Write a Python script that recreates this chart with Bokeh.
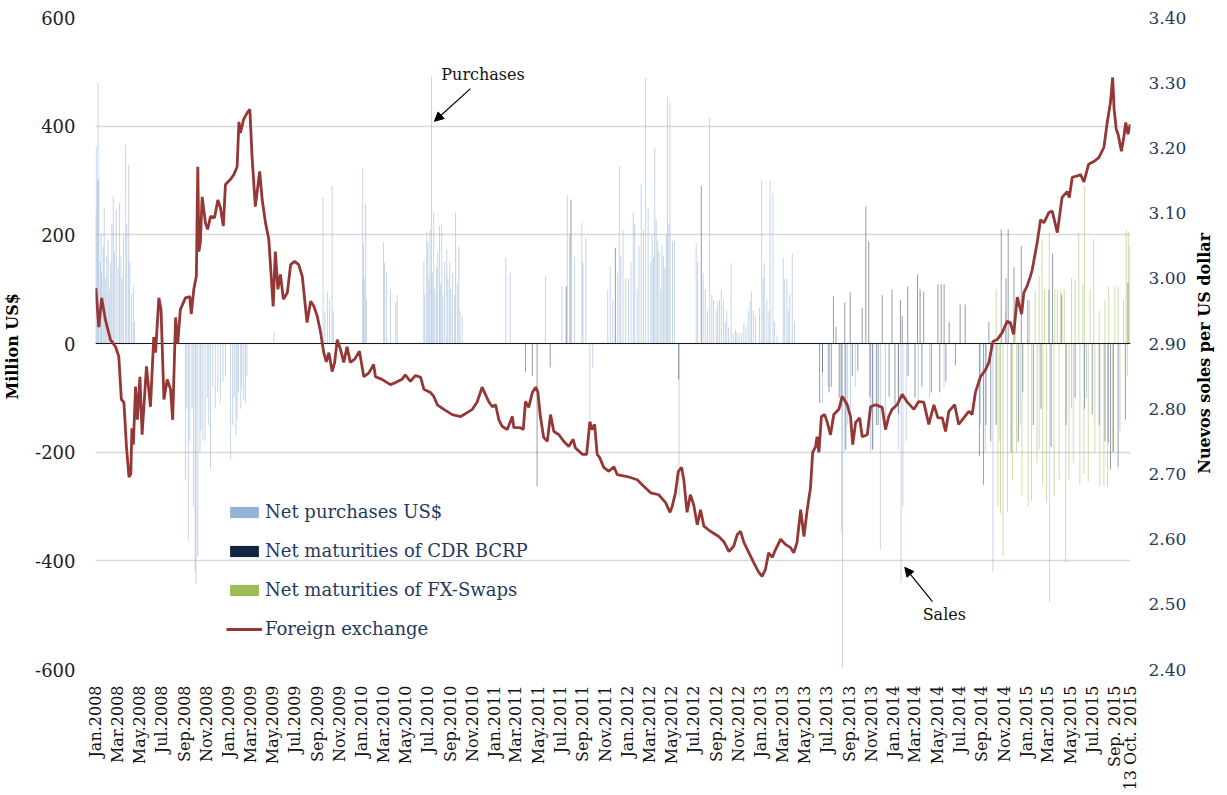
import math
import pandas as pd
from bokeh.plotting import figure
from bokeh.models import (Range1d, LinearAxis, FixedTicker, NumeralTickFormatter, Legend,
                          LegendItem, Label, Arrow, NormalHead, ColumnDataSource)
from bokeh.embed import file_html
from bokeh.resources import INLINE

FONT = "DejaVu Serif"

# ---------------- data ----------------
# Net purchases of US$ (million US$)
PURCHASES = [
    ("2008-01-02", 240), ("2008-01-03", 363), ("2008-01-07", 300), ("2008-01-08", 480), ("2008-01-10", 305),
    ("2008-01-14", 150), ("2008-01-16", 200), ("2008-01-18", 130), ("2008-01-22", 180), ("2008-01-25", 250),
    ("2008-01-29", 120), ("2008-02-01", 160), ("2008-02-05", 191), ("2008-02-08", 100), ("2008-02-12", 150),
    ("2008-02-15", 220), ("2008-02-19", 271), ("2008-02-22", 170), ("2008-02-27", 247), ("2008-03-03", 140),
    ("2008-03-07", 259), ("2008-03-11", 160), ("2008-03-14", 120), ("2008-03-18", 200), ("2008-03-24", 366),
    ("2008-03-27", 220), ("2008-04-01", 329), ("2008-04-04", 150), ("2008-04-09", 90), ("2008-04-14", 105),
    ("2008-04-17", 40),
    ("2008-09-04", -250), ("2008-09-08", -120), ("2008-09-12", -361), ("2008-09-16", -180), ("2008-09-22", -120),
    ("2008-09-26", -300), ("2008-10-01", -422), ("2008-10-03", -443), ("2008-10-08", -392), ("2008-10-14", -200),
    ("2008-10-17", -160), ("2008-10-22", -177), ("2008-10-28", -180), ("2008-11-03", -100), ("2008-11-07", -150),
    ("2008-11-12", -232), ("2008-11-18", -80), ("2008-11-25", -120), ("2008-12-02", -90), ("2008-12-09", -110),
    ("2008-12-16", -70), ("2008-12-23", -60), ("2009-01-06", -213), ("2009-01-12", -150), ("2009-01-16", -100),
    ("2009-01-21", -170), ("2009-01-24", -140), ("2009-01-28", -90), ("2009-02-03", -120), ("2009-02-06", -80),
    ("2009-02-11", -103), ("2009-02-16", -110), ("2009-02-20", -60),
    ("2009-05-05", 20), ("2009-09-17", 268), ("2009-09-22", 60), ("2009-09-29", 94), ("2009-10-05", 80),
    ("2009-10-12", 290), ("2009-10-15", 60),
    ("2010-01-04", 323), ("2010-01-06", 182), ("2010-01-08", 120), ("2010-01-12", 259), ("2010-01-14", 80),
    ("2010-03-02", 186), ("2010-03-05", 149), ("2010-03-10", 130), ("2010-03-21", 99), ("2010-04-05", 77),
    ("2010-04-09", 90),
    ("2010-06-21", 151), ("2010-06-24", 90), ("2010-06-29", 206), ("2010-07-02", 186), ("2010-07-05", 120),
    ("2010-07-08", 210), ("2010-07-12", 492), ("2010-07-14", 130), ("2010-07-18", 241), ("2010-07-21", 100),
    ("2010-07-26", 140), ("2010-07-29", 167), ("2010-08-03", 216), ("2010-08-05", 110), ("2010-08-09", 219),
    ("2010-08-12", 90), ("2010-08-17", 150), ("2010-08-23", 173), ("2010-08-26", 120), ("2010-08-31", 149),
    ("2010-09-03", 100), ("2010-09-08", 130), ("2010-09-13", 90), ("2010-09-16", 241), ("2010-09-21", 110),
    ("2010-09-25", 179), ("2010-09-28", 60), ("2010-10-04", 50),
    ("2011-02-01", 158), ("2011-02-13", 130), ("2011-05-21", 124),
    ("2011-07-05", 105), ("2011-07-20", 274), ("2011-07-26", 200), ("2011-08-09", 160), ("2011-08-29", 222),
    ("2011-09-01", 148), ("2011-09-09", 195), ("2011-09-20", -140), ("2011-09-28", -44),
    ("2011-11-08", 99), ("2011-11-15", 142), ("2011-11-22", 80), ("2011-12-05", 130), ("2011-12-10", 326),
    ("2011-12-14", 160), ("2011-12-20", 210), ("2011-12-27", 120), ("2012-01-04", 120), ("2012-01-11", 150),
    ("2012-01-17", 243), ("2012-01-21", 220), ("2012-01-28", 100), ("2012-02-02", 180), ("2012-02-08", 293),
    ("2012-02-14", 210), ("2012-02-20", 489), ("2012-02-27", 250), ("2012-03-05", 150), ("2012-03-09", 200),
    ("2012-03-13", 160), ("2012-03-16", 360), ("2012-03-20", 230), ("2012-03-24", 190), ("2012-03-28", 170),
    ("2012-04-02", 100), ("2012-04-05", 180), ("2012-04-09", 160), ("2012-04-13", 140), ("2012-04-17", 200),
    ("2012-04-20", 455), ("2012-04-24", 220), ("2012-04-27", 443), ("2012-05-04", 188), ("2012-05-09", 190),
    ("2012-05-22", -282),
    ("2012-07-08", 186), ("2012-07-12", 150), ("2012-07-27", 130), ("2012-08-02", 100), ("2012-08-08", 60),
    ("2012-08-14", 415), ("2012-08-20", 90), ("2012-08-25", 80), ("2012-09-01", 60), ("2012-09-05", 77),
    ("2012-09-10", 80), ("2012-09-15", 99), ("2012-09-21", 80), ("2012-09-26", 40), ("2012-09-30", 60),
    ("2012-10-05", 30), ("2012-10-12", 148), ("2012-10-18", 20), ("2012-10-24", 25), ("2012-10-28", 20),
    ("2012-11-03", 20), ("2012-11-10", 20), ("2012-11-16", 38), ("2012-11-22", 30), ("2012-11-28", 60),
    ("2012-12-03", 78), ("2012-12-07", 96), ("2012-12-12", 60), ("2012-12-18", 50), ("2012-12-29", 65),
    ("2013-01-04", 299), ("2013-01-08", 120), ("2013-01-11", 148), ("2013-01-18", 80), ("2013-01-24", 60),
    ("2013-01-27", 299), ("2013-02-04", 277), ("2013-02-08", 40), ("2013-02-15", 15), ("2013-03-04", 158),
    ("2013-03-08", 118), ("2013-03-14", 120), ("2013-03-18", 60), ("2013-03-22", 90), ("2013-03-29", 166),
    ("2013-04-04", 40),
    ("2013-06-20", -110), ("2013-07-05", -80), ("2013-08-12", -349), ("2013-08-14", -597), ("2013-08-20", -200),
    ("2013-08-28", -150), ("2013-09-05", -120), ("2013-09-18", -80), ("2013-10-30", -200), ("2013-11-06", -195),
    ("2013-11-26", -379), ("2013-12-10", -150), ("2014-01-14", -195), ("2014-01-22", -440), ("2014-01-27", -300),
    ("2014-02-05", -180), ("2014-03-10", -120), ("2014-04-10", -100), ("2014-05-20", -80), ("2014-08-28", -150),
    ("2014-09-10", -200), ("2014-10-01", -421), ("2014-10-20", -180), ("2014-12-15", -150), ("2015-02-05", -195),
    ("2015-03-06", -477), ("2015-05-05", -120), ("2015-06-15", -100),
]

# Net maturities of CDR BCRP (million US$)
CDR = [
    ("2011-03-27", -53), ("2011-04-15", -60), ("2011-04-28", -263), ("2011-06-03", -44), ("2011-07-17", 105),
    ("2011-07-30", 265), ("2011-11-29", 176), ("2012-05-21", -66), ("2012-07-22", 290),
    ("2013-06-12", -109), ("2013-06-20", -53), ("2013-07-08", -90), ("2013-07-14", -80), ("2013-07-20", 87),
    ("2013-07-27", 31), ("2013-08-05", -100), ("2013-08-10", -116), ("2013-08-20", 75), ("2013-08-23", -195),
    ("2013-09-04", 94), ("2013-09-10", -60), ("2013-09-25", -50), ("2013-10-07", 66), ("2013-10-17", 252),
    ("2013-10-25", 188), ("2013-10-28", -98), ("2013-11-04", -195), ("2013-11-15", -150), ("2013-11-20", -150),
    ("2013-12-01", 89), ("2013-12-20", -98), ("2013-12-28", 99), ("2014-01-05", -120), ("2014-01-15", -130),
    ("2014-01-20", 80), ("2014-01-25", 50), ("2014-02-09", 105), ("2014-02-10", -60), ("2014-03-01", -100),
    ("2014-03-08", 127), ("2014-03-15", 100), ("2014-03-20", -80), ("2014-03-25", 95), ("2014-04-15", -90),
    ("2014-05-03", 109), ("2014-05-08", -90), ("2014-05-12", 109), ("2014-05-20", 109), ("2014-05-25", -70),
    ("2014-06-03", 40), ("2014-06-20", -40), ("2014-07-03", 72), ("2014-07-17", 72), ("2014-08-25", -207),
    ("2014-09-05", -260), ("2014-09-12", -150), ("2014-09-20", 40), ("2014-09-25", -180), ("2014-10-10", -150),
    ("2014-10-24", 210), ("2014-11-06", 120), ("2014-11-12", 210), ("2014-11-20", -200), ("2014-11-28", 140),
    ("2014-12-10", -180), ("2014-12-18", 179), ("2014-12-22", -90), ("2015-01-05", 80), ("2015-01-20", -150),
    ("2015-02-10", -120), ("2015-03-04", 99), ("2015-03-10", -190), ("2015-03-14", 166), ("2015-04-08", 90),
    ("2015-04-20", -150), ("2015-05-15", -100), ("2015-06-10", -120), ("2015-07-01", -130), ("2015-07-20", -150),
    ("2015-08-05", -180), ("2015-08-14", -182), ("2015-08-20", -232), ("2015-08-28", -200), ("2015-09-10", -228),
    ("2015-09-30", -140), ("2015-10-07", 112),
]

# Net maturities of FX-Swaps (million US$)
SWAPS = [
    ("2014-10-10", 100), ("2014-10-15", -300), ("2014-10-22", -312), ("2014-10-29", -392), ("2014-11-05", 60),
    ("2014-11-10", -310), ("2014-11-24", -250), ("2014-12-01", 40), ("2014-12-05", -200), ("2014-12-20", -280),
    ("2015-01-06", -300), ("2015-01-10", 80), ("2015-01-15", -290), ("2015-01-25", 99), ("2015-01-30", -220),
    ("2015-02-05", 124), ("2015-02-13", 191), ("2015-02-15", -260), ("2015-02-20", 99), ("2015-02-25", -293),
    ("2015-03-05", 204), ("2015-03-18", -280), ("2015-03-20", 99), ("2015-03-27", 99), ("2015-04-01", -250),
    ("2015-04-05", 99), ("2015-04-15", 99), ("2015-04-19", -403), ("2015-04-28", -250), ("2015-05-05", 120),
    ("2015-05-10", -220), ("2015-05-15", 118), ("2015-05-25", 204), ("2015-05-28", -260), ("2015-06-05", 110),
    ("2015-06-08", -240), ("2015-06-10", 290), ("2015-06-20", -254), ("2015-06-25", 100), ("2015-07-05", 193),
    ("2015-07-08", -200), ("2015-07-20", 60), ("2015-07-22", -263), ("2015-08-02", -263), ("2015-08-05", 80),
    ("2015-08-12", -263), ("2015-08-15", 105), ("2015-08-25", -200), ("2015-09-01", 105), ("2015-09-10", 105),
    ("2015-09-15", -160), ("2015-09-25", 80), ("2015-10-02", 210), ("2015-10-05", -60), ("2015-10-08", 205),
    ("2015-10-12", 180),
]

# Foreign exchange rate (Nuevos soles per US dollar)
FX = [
    ("2008-01-02", 2.985), ("2008-01-10", 2.925), ("2008-01-18", 2.970), ("2008-01-28", 2.937), ("2008-02-11", 2.906),
    ("2008-02-25", 2.895), ("2008-03-05", 2.880), ("2008-03-12", 2.814), ("2008-03-19", 2.810), ("2008-03-26", 2.742),
    ("2008-04-02", 2.695), ("2008-04-07", 2.700), ("2008-04-10", 2.770), ("2008-04-14", 2.745), ("2008-04-20", 2.834),
    ("2008-04-25", 2.783), ("2008-05-02", 2.849), ("2008-05-08", 2.760), ("2008-05-20", 2.865), ("2008-05-31", 2.803),
    ("2008-06-09", 2.910), ("2008-06-14", 2.886), ("2008-06-23", 2.970), ("2008-06-29", 2.952), ("2008-07-07", 2.814),
    ("2008-07-16", 2.845), ("2008-07-25", 2.830), ("2008-07-31", 2.783), ("2008-08-08", 2.940), ("2008-08-14", 2.900),
    ("2008-08-21", 2.952), ("2008-09-04", 2.970), ("2008-09-16", 2.972), ("2008-09-20", 2.945), ("2008-09-27", 2.983),
    ("2008-10-04", 3.003), ("2008-10-08", 3.171), ("2008-10-11", 3.041), ("2008-10-15", 3.055), ("2008-10-20", 3.125),
    ("2008-10-29", 3.085), ("2008-11-04", 3.075), ("2008-11-12", 3.095), ("2008-11-23", 3.093), ("2008-12-02", 3.120),
    ("2008-12-09", 3.109), ("2008-12-17", 3.080), ("2008-12-23", 3.144), ("2009-01-06", 3.152), ("2009-01-15", 3.159),
    ("2009-01-24", 3.171), ("2009-01-29", 3.240), ("2009-02-02", 3.223), ("2009-02-11", 3.244), ("2009-02-21", 3.254),
    ("2009-02-28", 3.259), ("2009-03-06", 3.187), ("2009-03-15", 3.110), ("2009-03-27", 3.164), ("2009-04-03", 3.120),
    ("2009-04-12", 3.085), ("2009-04-21", 3.060), ("2009-05-03", 2.957), ("2009-05-09", 3.041), ("2009-05-16", 2.983),
    ("2009-05-23", 3.006), ("2009-05-31", 2.968), ("2009-06-11", 2.978), ("2009-06-20", 3.021), ("2009-07-01", 3.026),
    ("2009-07-12", 3.021), ("2009-07-22", 3.003), ("2009-08-04", 2.932), ("2009-08-14", 2.965), ("2009-08-23", 2.957),
    ("2009-09-01", 2.942), ("2009-09-10", 2.918), ("2009-09-19", 2.886), ("2009-09-26", 2.872), ("2009-10-03", 2.886),
    ("2009-10-12", 2.857), ("2009-10-19", 2.871), ("2009-10-26", 2.906), ("2009-11-04", 2.891), ("2009-11-13", 2.871),
    ("2009-11-22", 2.895), ("2009-12-01", 2.871), ("2009-12-13", 2.876), ("2009-12-26", 2.888), ("2010-01-07", 2.849),
    ("2010-01-21", 2.855), ("2010-02-03", 2.868), ("2010-02-08", 2.849), ("2010-02-26", 2.845), ("2010-03-21", 2.837),
    ("2010-04-04", 2.840), ("2010-04-22", 2.845), ("2010-05-01", 2.852), ("2010-05-15", 2.842), ("2010-05-29", 2.851),
    ("2010-06-12", 2.848), ("2010-06-21", 2.830), ("2010-07-09", 2.825), ("2010-07-18", 2.819), ("2010-07-28", 2.806),
    ("2010-08-15", 2.799), ("2010-09-07", 2.791), ("2010-09-30", 2.788), ("2010-10-18", 2.794), ("2010-11-01", 2.799),
    ("2010-11-14", 2.810), ("2010-11-28", 2.833), ("2010-12-07", 2.822), ("2010-12-16", 2.811), ("2010-12-26", 2.803),
    ("2011-01-04", 2.806), ("2011-01-13", 2.783), ("2011-01-22", 2.773), ("2011-02-05", 2.768), ("2011-02-19", 2.788),
    ("2011-02-23", 2.771), ("2011-03-13", 2.771), ("2011-03-21", 2.768), ("2011-03-27", 2.811), ("2011-04-05", 2.802),
    ("2011-04-15", 2.825), ("2011-04-24", 2.833), ("2011-04-30", 2.826), ("2011-05-07", 2.788), ("2011-05-16", 2.756),
    ("2011-05-26", 2.750), ("2011-06-04", 2.791), ("2011-06-13", 2.765), ("2011-06-27", 2.760), ("2011-07-10", 2.750),
    ("2011-07-24", 2.742), ("2011-08-05", 2.753), ("2011-08-11", 2.740), ("2011-08-30", 2.730), ("2011-09-11", 2.730),
    ("2011-09-20", 2.780), ("2011-09-26", 2.768), ("2011-10-03", 2.776), ("2011-10-10", 2.730), ("2011-10-17", 2.725),
    ("2011-10-28", 2.710), ("2011-11-11", 2.704), ("2011-11-25", 2.711), ("2011-12-04", 2.699), ("2011-12-31", 2.696),
    ("2012-01-28", 2.691), ("2012-02-15", 2.681), ("2012-03-05", 2.671), ("2012-03-27", 2.668), ("2012-04-15", 2.656),
    ("2012-04-27", 2.641), ("2012-05-03", 2.650), ("2012-05-12", 2.671), ("2012-05-20", 2.704), ("2012-05-29", 2.710),
    ("2012-06-04", 2.691), ("2012-06-13", 2.641), ("2012-06-22", 2.668), ("2012-07-01", 2.653), ("2012-07-11", 2.622),
    ("2012-07-20", 2.645), ("2012-07-29", 2.620), ("2012-08-16", 2.612), ("2012-09-08", 2.604), ("2012-09-22", 2.596),
    ("2012-10-06", 2.581), ("2012-10-19", 2.589), ("2012-10-29", 2.607), ("2012-11-07", 2.612), ("2012-11-16", 2.595),
    ("2012-11-30", 2.579), ("2012-12-13", 2.564), ("2012-12-27", 2.549), ("2013-01-05", 2.543), ("2013-01-14", 2.553),
    ("2013-01-23", 2.579), ("2013-02-02", 2.572), ("2013-02-11", 2.584), ("2013-02-25", 2.600), ("2013-03-10", 2.592),
    ("2013-03-24", 2.587), ("2013-04-02", 2.579), ("2013-04-11", 2.595), ("2013-04-21", 2.645), ("2013-04-30", 2.604),
    ("2013-05-09", 2.645), ("2013-05-18", 2.679), ("2013-05-24", 2.733), ("2013-06-01", 2.742), ("2013-06-05", 2.757),
    ("2013-06-10", 2.733), ("2013-06-17", 2.788), ("2013-06-26", 2.791), ("2013-07-03", 2.779), ("2013-07-12", 2.760),
    ("2013-07-21", 2.791), ("2013-08-04", 2.799), ("2013-08-13", 2.819), ("2013-08-27", 2.806), ("2013-09-05", 2.788),
    ("2013-09-11", 2.745), ("2013-09-19", 2.779), ("2013-09-30", 2.786), ("2013-10-07", 2.757), ("2013-10-21", 2.760),
    ("2013-10-30", 2.803), ("2013-11-13", 2.806), ("2013-12-01", 2.802), ("2013-12-10", 2.768), ("2013-12-19", 2.788),
    ("2013-12-28", 2.799), ("2014-01-11", 2.806), ("2014-01-25", 2.822), ("2014-02-08", 2.810), ("2014-02-26", 2.799),
    ("2014-03-11", 2.811), ("2014-03-25", 2.810), ("2014-04-08", 2.776), ("2014-04-22", 2.806), ("2014-05-03", 2.786),
    ("2014-05-15", 2.786), ("2014-05-24", 2.765), ("2014-06-02", 2.796), ("2014-06-18", 2.806), ("2014-06-29", 2.776),
    ("2014-07-13", 2.786), ("2014-07-27", 2.796), ("2014-08-05", 2.791), ("2014-08-14", 2.825), ("2014-08-28", 2.849),
    ("2014-09-11", 2.860), ("2014-09-20", 2.871), ("2014-10-01", 2.903), ("2014-10-13", 2.906), ("2014-10-27", 2.917),
    ("2014-11-09", 2.934), ("2014-11-18", 2.932), ("2014-11-27", 2.914), ("2014-12-07", 2.971), ("2014-12-19", 2.945),
    ("2014-12-25", 2.978), ("2015-01-03", 2.988), ("2015-01-12", 3.003), ("2015-01-17", 3.013), ("2015-01-31", 3.056),
    ("2015-02-09", 3.090), ("2015-02-18", 3.085), ("2015-03-04", 3.101), ("2015-03-13", 3.103), ("2015-03-27", 3.070),
    ("2015-04-02", 3.095), ("2015-04-09", 3.124), ("2015-04-23", 3.133), ("2015-04-29", 3.124), ("2015-05-07", 3.155),
    ("2015-05-21", 3.157), ("2015-05-30", 3.159), ("2015-06-08", 3.148), ("2015-06-21", 3.175), ("2015-07-05", 3.179),
    ("2015-07-19", 3.185), ("2015-08-02", 3.201), ("2015-08-11", 3.239), ("2015-08-20", 3.270), ("2015-08-26", 3.308),
    ("2015-08-30", 3.259), ("2015-09-05", 3.228), ("2015-09-10", 3.221), ("2015-09-19", 3.195), ("2015-09-26", 3.218),
    ("2015-10-01", 3.239), ("2015-10-07", 3.221), ("2015-10-13", 3.236),
]

X_TICKS = [
    ("2008-01-01", "Jan.2008"), ("2008-03-01", "Mar.2008"), ("2008-05-01", "May.2008"), ("2008-07-01", "Jul.2008"),
    ("2008-09-01", "Sep.2008"), ("2008-11-01", "Nov.2008"), ("2009-01-01", "Jan.2009"), ("2009-03-01", "Mar.2009"),
    ("2009-05-01", "May.2009"), ("2009-07-01", "Jul.2009"), ("2009-09-01", "Sep.2009"), ("2009-11-01", "Nov.2009"),
    ("2010-01-01", "Jan.2010"), ("2010-03-01", "Mar.2010"), ("2010-05-01", "May.2010"), ("2010-07-01", "Jul.2010"),
    ("2010-09-01", "Sep.2010"), ("2010-11-01", "Nov.2010"), ("2011-01-01", "Jan.2011"), ("2011-03-01", "Mar.2011"),
    ("2011-05-01", "May.2011"), ("2011-07-01", "Jul.2011"), ("2011-09-01", "Sep.2011"), ("2011-11-01", "Nov.2011"),
    ("2012-01-01", "Jan.2012"), ("2012-03-01", "Mar.2012"), ("2012-05-01", "May.2012"), ("2012-07-01", "Jul.2012"),
    ("2012-09-01", "Sep.2012"), ("2012-11-01", "Nov.2012"), ("2013-01-01", "Jan.2013"), ("2013-03-01", "Mar.2013"),
    ("2013-05-01", "May.2013"), ("2013-07-01", "Jul.2013"), ("2013-09-01", "Sep.2013"), ("2013-11-01", "Nov.2013"),
    ("2014-01-01", "Jan.2014"), ("2014-03-01", "Mar.2014"), ("2014-05-01", "May.2014"), ("2014-07-01", "Jul.2014"),
    ("2014-09-01", "Sep.2014"), ("2014-11-01", "Nov.2014"), ("2015-01-01", "Jan.2015"), ("2015-03-01", "Mar.2015"),
    ("2015-05-01", "May.2015"), ("2015-07-01", "Jul.2015"), ("2015-09-01", "Sep. 2015"), ("2015-10-13", "13 Oct. 2015"),
]
LEFT_TICKS = [-600, -400, -200, 0, 200, 400, 600]
RIGHT_TICKS = [2.40, 2.50, 2.60, 2.70, 2.80, 2.90, 3.00, 3.10, 3.20, 3.30, 3.40]


def ms(d):
    return int(pd.Timestamp(d).value // 10**6)


# ---------------- figure ----------------
p = figure(frame_width=1035, frame_height=652, x_axis_type="datetime",
           x_range=Range1d(ms("2008-01-01"), ms("2015-10-14")), y_range=Range1d(-600, 600),
           output_backend="svg", toolbar_location=None,
           min_border_left=87, min_border_right=87, min_border_top=17, min_border_bottom=0,
           outline_line_color=None, background_fill_color="white", border_fill_color="white")
p.extra_y_ranges = {"fx": Range1d(2.40, 3.40)}

p.xgrid.visible = False
p.ygrid.grid_line_color = "#D9D9D9"
p.ygrid.grid_line_width = 1.3

# left axis
la = p.yaxis[0]
la.ticker = FixedTicker(ticks=LEFT_TICKS)
la.major_label_overrides = {t: str(t) for t in LEFT_TICKS}
la.axis_line_color = None
la.major_tick_line_color = None
la.minor_tick_line_color = None
la.major_label_standoff = 14
la.major_label_text_font = FONT
la.major_label_text_font_size = "18px"
la.major_label_text_color = "#222222"
la.axis_label = "Million  US$"
la.axis_label_text_font = FONT
la.axis_label_text_font_size = "16px"
la.axis_label_text_font_style = "bold"
la.axis_label_text_color = "#000000"
la.axis_label_standoff = 10

# right axis
ra = LinearAxis(y_range_name="fx", ticker=FixedTicker(ticks=RIGHT_TICKS),
                formatter=NumeralTickFormatter(format="0.00"))
ra.axis_line_color = None
ra.major_tick_line_color = None
ra.minor_tick_line_color = None
ra.major_label_standoff = 12
ra.major_label_text_font = FONT
ra.major_label_text_font_size = "17px"
ra.major_label_text_color = "#1F3A5F"
p.add_layout(ra, "right")

# right-hand title, reading bottom to top, in its own side panel
p.add_layout(Label(x=15, y=319, x_units="screen", y_units="screen", text="Nuevos soles  per US dollar",
                   angle=math.pi / 2, text_font=FONT, text_font_size="16px", text_font_style="bold",
                   text_color="#000000", text_align="center", text_baseline="middle"), "right")

# bottom axis
xa = p.xaxis[0]
xa.ticker = FixedTicker(ticks=[ms(d) for d, _ in X_TICKS])
xa.major_label_overrides = {ms(d): lab for d, lab in X_TICKS}
xa.major_label_orientation = math.pi / 2
xa.axis_line_color = None
xa.major_tick_line_color = None
xa.minor_tick_line_color = None
xa.major_label_standoff = 10
xa.major_label_text_font = FONT
xa.major_label_text_font_size = "16px"
xa.major_label_text_color = "#111111"


def bar_src(pairs):
    return ColumnDataSource(dict(x=pd.to_datetime([d for d, _ in pairs]), top=[v for _, v in pairs]))


p.segment(x0="x", y0=0, x1="x", y1="top", source=bar_src(PURCHASES), line_color="#95B3D7",
          line_width=1, line_alpha=0.55)
p.segment(x0="x", y0=0, x1="x", y1="top", source=bar_src(CDR), line_color="#10253F",
          line_width=1, line_alpha=0.45)
p.segment(x0="x", y0=0, x1="x", y1="top", source=bar_src(SWAPS), line_color="#9BBB59",
          line_width=1, line_alpha=0.5)

p.hspan(y=[0], line_color="#1A1A1A", line_width=1.2)

fx_src = ColumnDataSource(dict(x=pd.to_datetime([d for d, _ in FX]), v=[v for _, v in FX]))
fx_r = p.line(x="x", y="v", source=fx_src, y_range_name="fx", line_color="#953735", line_width=2.8)


# legend proxies (a single zero-height bar placed before the visible range)
def proxy(color):
    src = ColumnDataSource(dict(x=[ms("2000-01-01")], top=[0]))
    return p.vbar(x="x", top="top", bottom=0, width=1, source=src, fill_color=color, line_color=None)


r_p = proxy("#95B3D7")
r_c = proxy("#10253F")
r_s = proxy("#9BBB59")

legend = Legend(items=[LegendItem(label="Net purchases US$", renderers=[r_p]),
                       LegendItem(label="Net maturities of CDR BCRP", renderers=[r_c]),
                       LegendItem(label="Net maturities of FX-Swaps", renderers=[r_s]),
                       LegendItem(label="Foreign exchange", renderers=[fx_r])],
                location=(131, 30), orientation="vertical",
                label_text_font=FONT, label_text_font_size="18px", label_text_color="#1F3A5F",
                glyph_width=36, glyph_height=14, label_height=21, spacing=18, label_standoff=3,
                padding=0, margin=0, border_line_color=None, background_fill_alpha=0)
p.add_layout(legend)

# annotations
p.add_layout(Label(x=ms("2010-08-08"), y=495, text="Purchases", text_font=FONT, text_font_size="16px",
                   text_color="#111111", text_align="left", text_baseline="middle"))
p.add_layout(Arrow(end=NormalHead(size=9, fill_color="black", line_color="black"),
                   x_start=ms("2010-10-27"), y_start=469, x_end=ms("2010-07-20"), y_end=409,
                   line_color="black", line_width=1.2))
p.add_layout(Label(x=ms("2014-03-22"), y=-499, text="Sales", text_font=FONT, text_font_size="16px",
                   text_color="#111111", text_align="left", text_baseline="middle"))
p.add_layout(Arrow(end=NormalHead(size=9, fill_color="black", line_color="black"),
                   x_start=ms("2014-04-18"), y_start=-475, x_end=ms("2014-02-01"), y_end=-412,
                   line_color="black", line_width=1.2))

open("out.html", "w").write(file_html(p, INLINE))
